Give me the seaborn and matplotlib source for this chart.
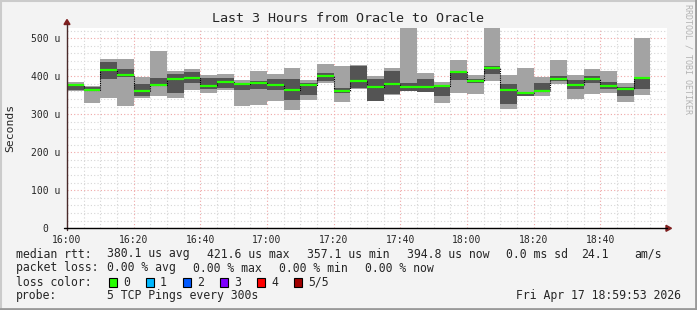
import numpy as np
import pandas as pd
import matplotlib
matplotlib.use("Agg")
import matplotlib.pyplot as plt
from matplotlib.lines import Line2D
from matplotlib.patches import Rectangle, Polygon
import seaborn as sns

# ---------------- data ----------------
bin_starts = ["16:00", "16:05", "16:10", "16:15", "16:20", "16:25", "16:30", "16:35",
              "16:40", "16:45", "16:50", "16:55", "17:00", "17:05", "17:10", "17:15",
              "17:20", "17:25", "17:30", "17:35", "17:40", "17:45", "17:50", "17:55",
              "18:00", "18:05", "18:10", "18:15", "18:20", "18:25", "18:30", "18:35",
              "18:40", "18:45", "18:50"]
# round trip times in microseconds
outer_lo = [362, 330, 342, 322, 344, 348, 343, 364, 357, 364, 322, 324, 336, 311, 338, 383,
            332, 367, 334, 350, 361, 359, 330, 355, 353, 387, 314, 348, 348, 380, 340, 354,
            355, 332, 350]
inner_lo = [364, 360, 394, 398, 348, 374, 357, 381, 366, 369, 364, 367, 363, 337, 350, 387,
            357, 368, 336, 354, 362, 359, 347, 389, 382, 407, 326, 349, 360, 388, 366, 381,
            367, 348, 366]
median = [377, 365, 416, 404, 361, 377, 394, 396, 375, 384, 379, 383, 377, 365, 377, 401,
          362, 388, 373, 379, 371, 371, 374, 411, 387, 421.6, 364, 357.1, 361, 394, 376, 394,
          374, 366, 394.8]
inner_hi = [380, 371, 438, 419, 380, 395, 405, 412, 395, 396, 381, 388, 392, 392, 383, 408,
            368, 427, 392, 413, 383, 392, 376, 415, 394, 428, 379, 359, 381, 401, 389, 401,
            384, 372, 399]
outer_hi = [384, 375, 446, 446, 399, 466, 414, 419, 403, 406, 390, 414, 407, 423, 389, 431,
            426, 430, 401, 423, 560, 409, 384, 442, 404, 560, 404, 423, 397, 442, 404, 418,
            415, 381, 500]

x_tick_labels = ["16:00", "16:20", "16:40", "17:00", "17:20", "17:40", "18:00", "18:20", "18:40"]
y_tick_values = [0, 100, 200, 300, 400, 500]
y_tick_labels = ["0  ", "100 u", "200 u", "300 u", "400 u", "500 u"]

title = "Last 3 Hours from Oracle to Oracle"
loss_labels = ["0", "1", "2", "3", "4", "5/5"]
loss_colors = ["#26ff00", "#00b8ff", "#0059ff", "#7e00ff", "#ff0000", "#a10000"]

# ---------------- helpers ----------------
def to_min(s):
    h, m = s.split(":")
    return int(h) * 60 + int(m) - 16 * 60

W, H = 697, 310
xs = np.array([to_min(s) for s in bin_starts], dtype=float)
bw = 5.0

sns.set_style("white")
plt.rcParams["font.family"] = ["DejaVu Sans Mono", "DejaVu Sans"]
mono = "DejaVu Sans Mono"

fig = plt.figure(figsize=(W / 100, H / 100), dpi=100)
fig.patch.set_facecolor("#f3f3f3")

def fx(px):
    return px / W

def fy(py):
    return 1 - py / H

ax0, ay0 = 67.0, 228.3
ax1, ay1 = 667.0, 28.0
ax = fig.add_axes([fx(ax0), fy(ay0), (ax1 - ax0) / W, (ay0 - ay1) / H])
ax.set_facecolor("white")
ax.set_xlim(0, 180)
ax.set_ylim(0, 527)

# grid
ax.set_xticks([to_min(s) for s in x_tick_labels])
ax.set_xticklabels(x_tick_labels)
ax.set_xticks(np.arange(0, 181, 5), minor=True)
ax.set_yticks(y_tick_values)
ax.set_yticklabels(y_tick_labels)
ax.set_yticks(np.arange(0, 527, 20), minor=True)
ax.grid(which="minor", color="#d6d6d6", linestyle=(0, (1, 2)), linewidth=0.8, zorder=0)
ax.grid(which="major", color="#f0a8a8", linestyle=(0, (1, 2)), linewidth=0.8, zorder=0)
ax.set_axisbelow(True)

ax.tick_params(axis="both", which="major", length=2, width=0.8, color="#e89090",
               labelsize=7, pad=2.5)
ax.tick_params(axis="both", which="minor", length=2, width=0.8, color="#c8c8c8")
for lab in ax.get_xticklabels() + ax.get_yticklabels():
    lab.set_fontfamily(mono)
for sp in ax.spines.values():
    sp.set_visible(False)

# smoke
ax.bar(xs, np.array(outer_hi) - np.array(outer_lo), bottom=outer_lo, width=bw,
       align="edge", color="#a3a3a3", linewidth=0, zorder=2)
ax.bar(xs, np.array(inner_hi) - np.array(inner_lo), bottom=inner_lo, width=bw,
       align="edge", color="#545454", linewidth=0, zorder=3)

# median step line (black dotted connector) + green median segments
df = pd.DataFrame({"t": np.append(xs, xs[-1] + bw), "rtt": np.append(median, median[-1])})
sns.lineplot(data=df, x="t", y="rtt", ax=ax, drawstyle="steps-post", color="black",
             linestyle=(0, (1, 1)), linewidth=0.8, zorder=4)
ax.hlines(median, xs, xs + bw, colors=loss_colors[0], linewidth=1.6, zorder=5)
ax.set_xlabel("")
ax.set_ylabel("")

# axes lines with arrows
fig.add_artist(Line2D([fx(ax0), fx(ax0)], [fy(ay0 + 2), fy(24)], color="#4a2a2a", lw=1.0))
fig.add_artist(Line2D([fx(ax0 - 3), fx(667)], [fy(ay0), fy(ay0)], color="black", lw=1.0))
fig.add_artist(Polygon([[fx(ax0 - 3), fy(24.5)], [fx(ax0 + 3), fy(24.5)], [fx(ax0), fy(19.5)]],
                       closed=True, color="#7f1f1f", transform=fig.transFigure))
fig.add_artist(Polygon([[fx(666), fy(ay0 - 3)], [fx(666), fy(ay0 + 3)], [fx(671.5), fy(ay0)]],
                       closed=True, color="#7f1f1f", transform=fig.transFigure))

# titles
fig.text(fx(348.5), fy(19), title, ha="center", va="center", fontsize=9.6, family=mono)
fig.text(fx(10), fy(128), "Seconds", rotation=90, ha="center", va="center",
         fontsize=8.2, family=mono)
fig.text(fx(688), fy(4), "RRDTOOL / TOBI OETIKER", rotation=270, ha="center", va="top",
         fontsize=6, family=mono, color="#b3b3b3")

# legend rows
fs = 8.3
def t(x, y, s):
    fig.text(fx(x), fy(y), s, ha="left", va="center", fontsize=fs, family=mono)

r1, r2, r3, r4 = 254, 268, 282, 296
t(16, r1, "median rtt:")
for xx, s in zip([107, 207, 307, 407, 506], ["380.1 us avg", "421.6 us max", "357.1 us min",
                                          "394.8 us now", "0.0 ms sd"]):
    t(xx, r1, s)
t(581, r1, "24.1")
t(634, r1, "am/s")

t(16, r2, "packet loss:")
for xx, s in zip([107, 193, 279, 365], ["0.00 % avg", "0.00 % max", "0.00 % min", "0.00 % now"]):
    t(xx, r2, s)

t(16, r3, "loss color:")
for i, (lab, col) in enumerate(zip(loss_labels, loss_colors)):
    sx = 108.5 + 37 * i
    fig.add_artist(Rectangle((fx(sx), fy(r3 + 4.5)), 8 / W, 9 / H, transform=fig.transFigure,
                             facecolor=col, edgecolor="black", lw=0.8))
    t(sx + 14.5, r3, lab)

t(16, r4, "probe:")
t(107, r4, "5 TCP Pings every 300s")
fig.text(fx(681), fy(r4), "Fri Apr 17 18:59:53 2026", ha="right", va="center",
         fontsize=fs, family=mono)

# outer shading frame
fig.add_artist(Line2D([0, 1], [fy(0.5), fy(0.5)], color="#cbcbcb", lw=1.5))
fig.add_artist(Line2D([fx(0.5), fx(0.5)], [0, 1], color="#cbcbcb", lw=1.5))
fig.add_artist(Line2D([0, 1], [fy(309), fy(309)], color="#999999", lw=2))
fig.add_artist(Line2D([fx(696), fx(696)], [0, 1], color="#999999", lw=2))

fig.savefig("out.png", dpi=100, facecolor=fig.get_facecolor())
